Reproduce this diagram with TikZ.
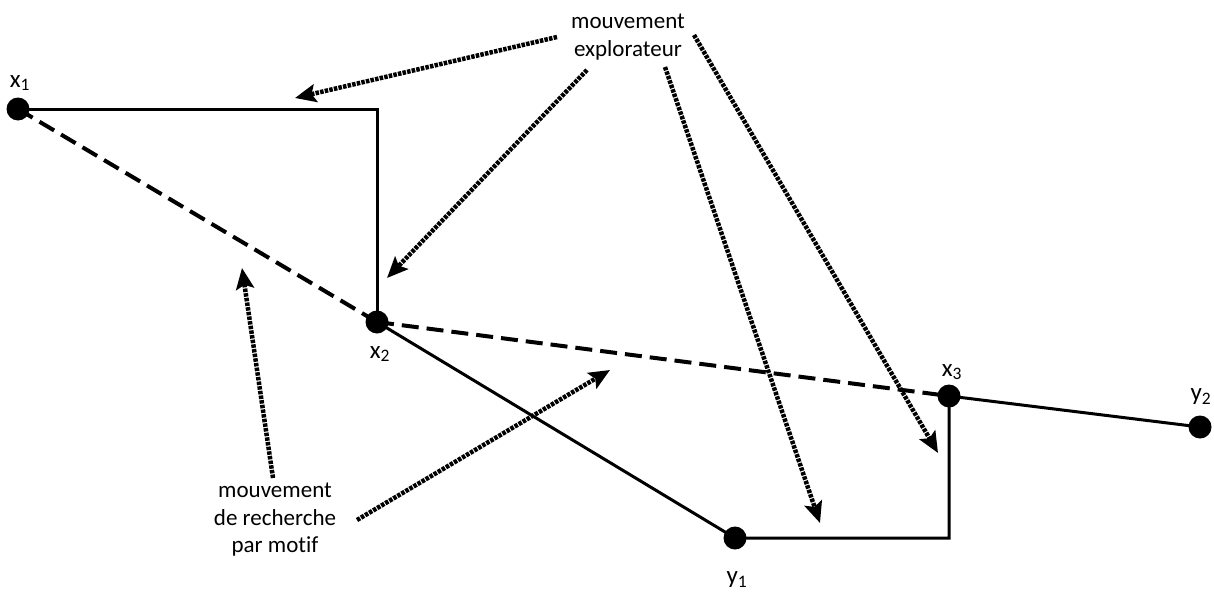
\documentclass[tikz,border=0pt]{standalone}
\usepackage{fontspec}
\setmainfont{Carlito}[Ligatures={NoCommon}]
\usetikzlibrary{arrows.meta}
\begin{document}
\begin{tikzpicture}[x=1pt,y=-1pt,
  dot/.style={circle,fill=black,inner sep=0pt,minimum size=23pt},
  lbl/.style={font=\fontsize{25}{28}\selectfont,inner sep=0pt},
  txt/.style={font=\fontsize{23}{27.5}\selectfont,align=center,inner sep=0pt},
  solidline/.style={line width=3pt},
  dashline/.style={line width=4pt,dash pattern=on 17pt off 8pt},
  dotarrow/.style={line width=4.5pt,dash pattern=on 3.5pt off 1.2pt,
    -{Stealth[length=21pt,width=18pt,inset=4pt]}}]
\useasboundingbox (0,0) rectangle (1214,597);
% points
\node[dot] (x1) at (18,109) {};
\node[dot] (x2) at (377,322) {};
\node[dot] (x3) at (949,396) {};
\node[dot] (y1) at (735,538) {};
\node[dot] (y2) at (1200,427) {};
% labels
\node[lbl] (lx1) at (20,83) {x\textsubscript{1}};
\node[lbl] (lx2) at (380,354) {x\textsubscript{2}};
\node[lbl] (lx3) at (952,372) {x\textsubscript{3}};
\node[lbl] (ly1) at (737,580) {y\textsubscript{1}};
\node[lbl] (ly2) at (1201,397) {y\textsubscript{2}};
% solid paths
\draw[solidline] (x1.center) -- (x2.center |- x1.center) -- (x2.center);
\draw[solidline] (x2.center) -- (y1.center) -- (x3.center |- y1.center) -- (x3.center);
\draw[solidline] (x3.center) -- (y2.center);
% dashed paths
\draw[dashline] (x1.center) -- (x2.center);
\draw[dashline] (x2.center) -- (x3.center);
% texts
\node[txt] (expl) at (628,37) {mouvement\\explorateur};
\node[txt] (rech) at (275,520) {mouvement\\de recherche\\par motif};
% arrow endpoints
\coordinate (e1s) at (557,37);  \coordinate (e1t) at (295,98);
\coordinate (e2s) at (587,70);  \coordinate (e2t) at (387,278);
\coordinate (e3s) at (665,67);  \coordinate (e3t) at (820,523);
\coordinate (e4s) at (694,35);  \coordinate (e4t) at (938,453);
\coordinate (r1s) at (273,478); \coordinate (r1t) at (242,268);
\coordinate (r2s) at (357,520); \coordinate (r2t) at (610,370);
\draw[dotarrow] (e1s) -- (e1t);
\draw[dotarrow] (e2s) -- (e2t);
\draw[dotarrow] (e3s) -- (e3t);
\draw[dotarrow] (e4s) -- (e4t);
\draw[dotarrow] (r1s) -- (r1t);
\draw[dotarrow] (r2s) -- (r2t);
\end{tikzpicture}
\end{document}
